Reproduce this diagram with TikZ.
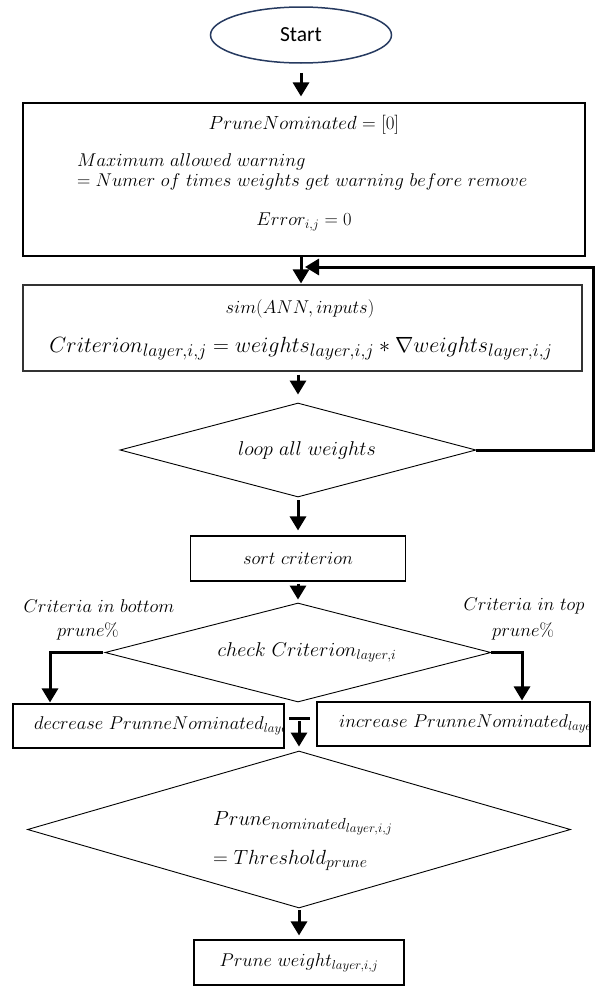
\RequirePackage{fix-cm}
\documentclass[tikz,border=0pt]{standalone}
\usepackage{fontspec}
\newfontfamily\calibri{Carlito}
\usetikzlibrary{arrows.meta,shapes.geometric}
\definecolor{startblue}{RGB}{38,58,96}
\DeclareMathSizes{22}{22}{18}{14}
\DeclareMathSizes{20.5}{20.5}{16}{13}
\begin{document}
\begin{tikzpicture}[x=1pt,y=-1pt,
  every node/.style={font=\fontsize{18.5}{20}\selectfont},
  box/.style={draw, line width=1.1pt, inner sep=0pt},
  dia/.style={draw, diamond, line width=0.9pt, inner sep=0pt},
  arr/.style={line width=3pt, -{Triangle[length=14pt,width=16pt]}},
  txt/.style={inner sep=0pt},
  stub/.style={line width=3pt}
]
\useasboundingbox (0,0) rectangle (597,988);

% Start
\node[ellipse, draw=startblue, line width=1.5pt, fill=white, minimum width=181pt, minimum height=56pt,
      font=\calibri\fontsize{21.5}{24}\selectfont] (start) at (301,35) {Start};

% Box 1
\node[box, minimum width=562pt, minimum height=153pt] (b1) at (304,179.5) {};
\node[txt, font=\fontsize{19}{20}\selectfont] (b1a) at (304,125) {$PruneNominated = [0]$};
\node[txt, anchor=west, align=left] (b1b) at (77,172) {$Maximum\ allowed\ warning$\\$= Numer\ of\ times\ weights\ get\ warning\ before\ remove$};
\node[txt] (b1c) at (304,222) {$Error_{i,j} = 0$};

% Box 2
\node[box, draw=black!80, minimum width=559pt, minimum height=86pt] (b2) at (302.5,328) {};
\node[txt] (b2a) at (300,309) {$sim(ANN, inputs)$};
\node[txt, anchor=base, font=\fontsize{22}{24}\selectfont] (b2b) at (301,352) {$Criterion_{layer,i,j} = weights_{layer,i,j} * \nabla weights_{layer,i,j}$};

% Diamond 1
\node[dia, minimum width=356pt, minimum height=94pt] (d1) at (298,450) {};
\node[txt, font=\fontsize{20}{22}\selectfont] (d1t) at (307,450) {$loop\ all\ weights$};

% Sort
\node[box, minimum width=215pt, minimum height=45pt] (sort) at (298,558.5) {$sort\ criterion$};

% Diamond 2
\node[dia, minimum width=386pt, minimum height=99pt] (d2) at (298,652.5) {};
\node[txt, font=\fontsize{20}{22}\selectfont] (d2t) at (307,652) {$check\ Criterion_{layer,i}$};
\node[txt] (lb1) at (99,606) {$Criteria\ in\ bottom$};
\node[txt] (lb2) at (88,631) {$prune\%$};
\node[txt] (lt1) at (524,606) {$Criteria\ in\ top$};
\node[txt] (lt2) at (523,631) {$prune\%$};

% Decrease / increase
\node[box, minimum width=271pt, minimum height=44pt] (dec) at (148.5,726) {};
\begin{scope}
\clip (dec.south west) rectangle (dec.north east);
\node[txt, anchor=west] (dect) at (34,726) {$decrease\ PrunneNominated_{layer,i,j}$};
\end{scope}
\node[box, minimum width=273pt, minimum height=44pt] (inc) at (453.5,724) {};
\begin{scope}
\clip (inc.south west) rectangle (inc.north east);
\node[txt, anchor=west] (inct) at (339,724) {$increase\ PrunneNominated_{layer,i,j}$};
\end{scope}

% Diamond 3
\node[dia, minimum width=543pt, minimum height=157pt] (d3) at (299,829.5) {};
\node[txt, anchor=base west, font=\fontsize{20.5}{22}\selectfont] (d3a) at (213,825) {$Prune_{nominated_{layer,i,j}}$};
\node[txt, anchor=base west, font=\fontsize{20.5}{22}\selectfont] (d3b) at (213,864) {$= Threshold_{prune}$};

% Prune weight
\node[box, minimum width=210pt, minimum height=45pt] (pw) at (299,962.5) {$Prune\ weight_{layer,i,j}$};

% coordinates
\coordinate (fbc) at (593,267);
\coordinate (fbend) at (305,267);
\coordinate (mA) at (289,718);
\coordinate (mB) at (310,718);
\coordinate (mC) at (299,721);

% connectors
\draw[arr, shorten <=9pt, shorten >=6pt] (start.south) -- (start.south |- b1.north);
\draw[arr, shorten >=1pt] (b1.south -| start.south) -- (b2.north -| start.south);
\draw[arr, shorten <=3pt, shorten >=8pt] (b2.south -| d1.north) -- (d1.north);
\draw[arr, shorten <=3pt, shorten >=5pt] (d1.south) -- (sort.north);
\draw[arr, shorten <=2pt, shorten >=3pt] (sort.south) -- (d2.north);
\draw[arr] (d1.east) -| (fbc) -- (fbend);
\draw[arr, shorten >=1pt] ([xshift=-2pt]d2.west) -| ([xshift=-98.5pt]dec.north);
\draw[arr, shorten >=1pt] (d2.east) -| ([xshift=68.5pt]inc.north);
\draw[stub] (mA) -- (mB);
\draw[arr, shorten >=4pt] (mC) -- (d3.north);
\draw[arr, shorten <=2pt, shorten >=4pt] (d3.south) -- (pw.north);
\end{tikzpicture}
\end{document}
